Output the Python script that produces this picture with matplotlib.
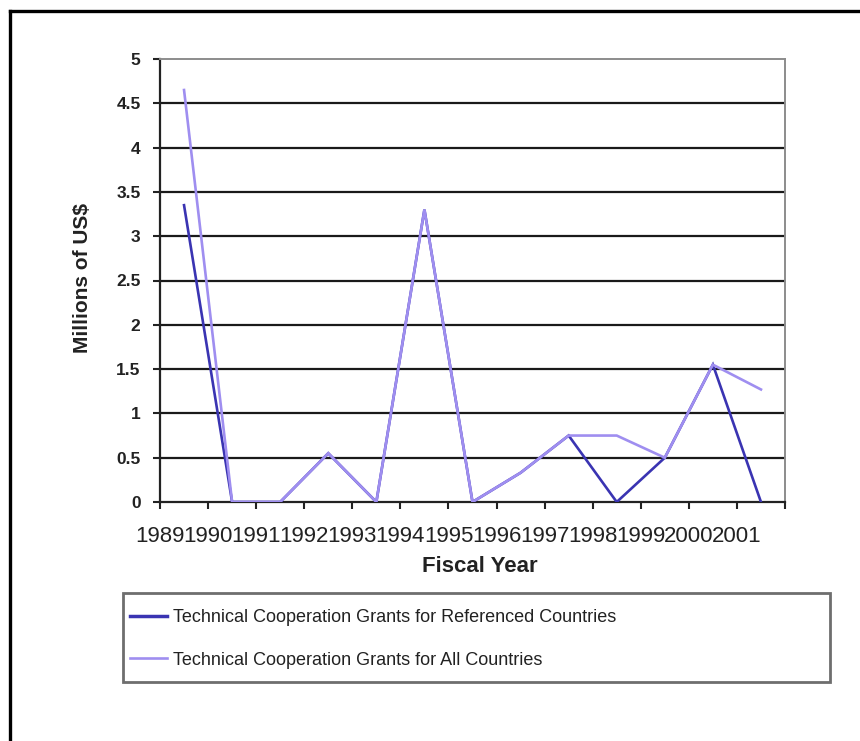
import numpy as np
import matplotlib
matplotlib.use("Agg")
import matplotlib.pyplot as plt
from matplotlib.lines import Line2D
from matplotlib.patches import Rectangle

# Fiscal-year categories and grant totals (millions of US$)
years = ['1989', '1990', '1991', '1992', '1993', '1994', '1995',
         '1996', '1997', '1998', '1999', '2000', '2001']
referenced = [3.35, 0, 0, 0.55, 0, 3.3, 0, 0.33, 0.75, 0, 0.5, 1.55, 0]
all_countries = [4.65, 0, 0, 0.55, 0, 3.3, 0, 0.33, 0.75, 0.75, 0.5, 1.55, 1.27]
series_labels = ['Technical Cooperation Grants for Referenced Countries',
                 'Technical Cooperation Grants for All Countries']
y_ticks = [0, 0.5, 1, 1.5, 2, 2.5, 3, 3.5, 4, 4.5, 5]
y_ticklabels = ['0', '0.5', '1', '1.5', '2', '2.5', '3', '3.5', '4', '4.5', '5']

plt.rcParams['font.family'] = ['Liberation Sans', 'DejaVu Sans']

W, H = 860, 741
fig = plt.figure(figsize=(W / 100, H / 100), dpi=100)
fig.patch.set_facecolor('white')

def fx(px):
    return px / W

def fy(py):
    return 1 - py / H

ax = fig.add_axes([fx(160), fy(502), fx(785) - fx(160), fy(59) - fy(502)])

x = np.arange(len(years)) + 0.5
dark = '#3A34B2'
light = '#9F8EF0'
ln1, = ax.plot(x, referenced, color=dark, lw=1.9, solid_joinstyle='miter', zorder=3)
ln2, = ax.plot(x, all_countries, color=light, lw=1.9, solid_joinstyle='miter', zorder=4)

ax.set_xlim(0, len(years))
ax.set_ylim(0, 5)

# horizontal gridlines
for v in y_ticks[1:-1]:
    ax.axhline(v, color='#1a1a1a', lw=1.6, zorder=1)

ax.set_yticks(y_ticks)
ax.set_yticklabels(y_ticklabels, fontsize=12.5, fontweight='bold', color='#222222')
ax.set_xticks(np.arange(len(years) + 1))
ax.set_xticklabels(years + [''], fontsize=16, color='#222222')

ax.tick_params(axis='y', direction='out', length=5, width=1.5, color='#222222', pad=9)
ax.tick_params(axis='x', direction='out', length=5, width=1.5, color='#222222', pad=12)

ax.spines['left'].set_color('#222222')
ax.spines['left'].set_linewidth(1.6)
ax.spines['bottom'].set_color('#222222')
ax.spines['bottom'].set_linewidth(1.6)
ax.spines['top'].set_color('#8c8c8c')
ax.spines['top'].set_linewidth(1.4)
ax.spines['right'].set_color('#8c8c8c')
ax.spines['right'].set_linewidth(1.4)

fig.text(fx(83), fy(278), 'Millions of US$', rotation=90, ha='center', va='center',
         fontsize=15, fontweight='bold', color='#222222')
fig.text(fx(480), fy(567), 'Fiscal Year', ha='center', va='center',
         fontsize=16, fontweight='bold', color='#222222')

# legend box
fig.patches.append(Rectangle((fx(123), fy(682)), fx(830) - fx(123), fy(593) - fy(682),
                             transform=fig.transFigure, fill=False,
                             edgecolor='#6e6e6e', lw=2.0))
leg = fig.legend([ln1, ln2], series_labels, loc='center left',
                 bbox_to_anchor=(fx(130), fy(639)), frameon=False,
                 fontsize=13, handlelength=2.05, handletextpad=0.33,
                 labelspacing=1.4, borderpad=0, borderaxespad=0)
for t in leg.get_texts():
    t.set_color('#222222')
leg.get_lines()[0].set_linewidth(2.5)

# outer frame (top and left edges)
fig.add_artist(Line2D([fx(10), fx(10)], [0, fy(11)], transform=fig.transFigure,
                      color='black', lw=2.4))
fig.add_artist(Line2D([fx(10), 1], [fy(11), fy(11)], transform=fig.transFigure,
                      color='black', lw=2.4))

fig.savefig('out.png', dpi=100)
